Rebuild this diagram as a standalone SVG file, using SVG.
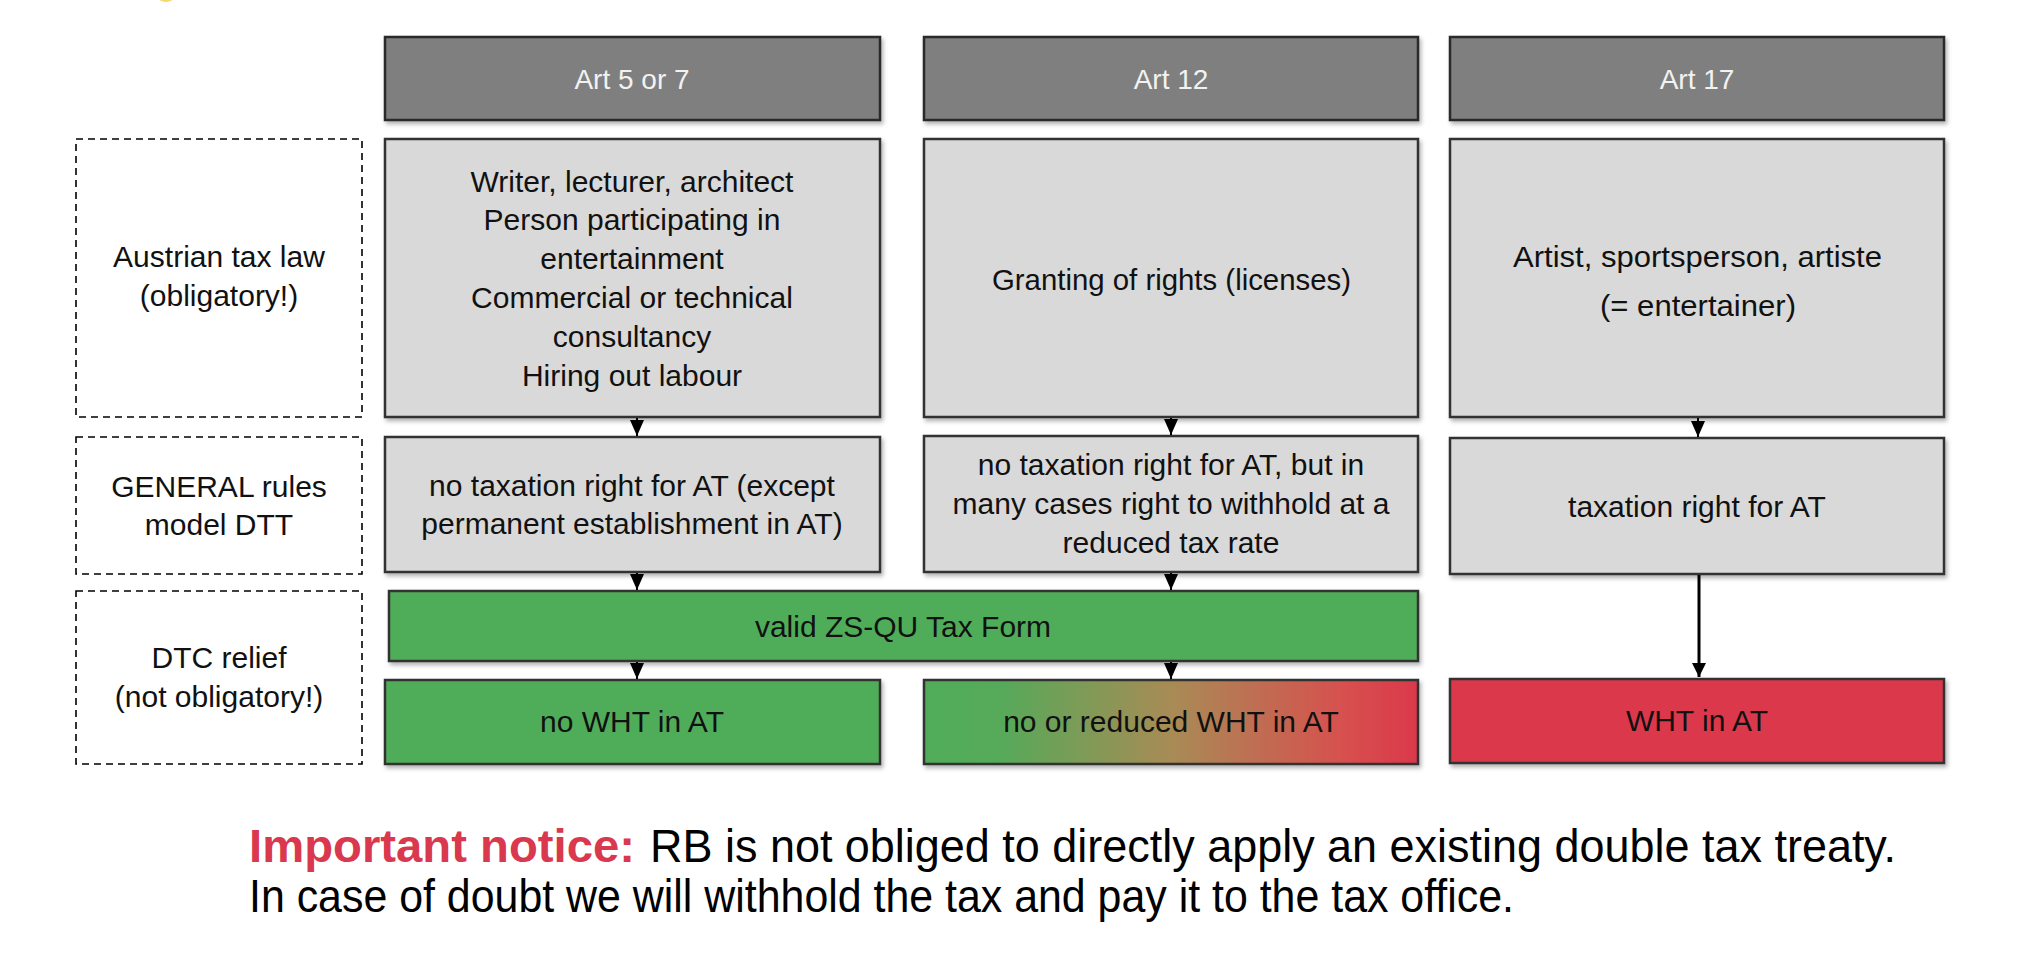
<svg xmlns="http://www.w3.org/2000/svg" width="2018" height="964" viewBox="0 0 2018 964">
<defs>
<filter id="sh" x="-5%" y="-5%" width="110%" height="120%">
<feDropShadow dx="2" dy="3" stdDeviation="2" flood-color="#000" flood-opacity="0.3"/>
</filter>
<linearGradient id="grad" x1="0" y1="0" x2="1" y2="0">
<stop offset="0" stop-color="#50ad5a"/>
<stop offset="0.15" stop-color="#55aa5a"/>
<stop offset="0.5" stop-color="#a88b55"/>
<stop offset="0.85" stop-color="#d7504f"/>
<stop offset="1" stop-color="#db384b"/>
</linearGradient>
<marker id="ah" viewBox="0 0 16 14" refX="16" refY="7" markerWidth="16" markerHeight="14" markerUnits="userSpaceOnUse" orient="auto">
<path d="M0,0 L16,7 L0,14 Z" fill="#000"/>
</marker>
<marker id="ah2" viewBox="0 0 14 14" refX="14" refY="7" markerWidth="14" markerHeight="14" markerUnits="userSpaceOnUse" orient="auto">
<path d="M0,0 L14,7 L0,14 Z" fill="#000"/>
</marker>
<style>
.hdr{fill:#7f7f7f;stroke:#2b2b2b;stroke-width:2.5;filter:url(#sh)}
.box{fill:#d9d9d9;stroke:#333;stroke-width:2.5;filter:url(#sh)}
.grn{fill:#50ad5a;stroke:#333;stroke-width:2.5;filter:url(#sh)}
.red{fill:#db374b;stroke:#333;stroke-width:2.5;filter:url(#sh)}
.gr{fill:url(#grad);stroke:#333;stroke-width:2.5;filter:url(#sh)}
.dash{fill:none;stroke:#000;stroke-width:1.6;stroke-dasharray:7,5}
.t{font-family:"Liberation Sans",Arial,sans-serif;font-size:30px;fill:#111;text-anchor:middle}
.th{font-family:"Liberation Sans",Arial,sans-serif;font-size:28px;fill:#f2f2f2;text-anchor:middle}
.f{font-family:"Liberation Sans",Arial,sans-serif;font-size:29px;fill:#111}
.n{font-family:"Liberation Sans",Arial,sans-serif;font-size:46px;fill:#000}
.nb{font-family:"Liberation Sans",Arial,sans-serif;font-size:46px;font-weight:bold;fill:#d9384e}
.c{stroke:#000;stroke-width:2;fill:none}
</style>
</defs>
<rect x="0" y="0" width="2018" height="964" fill="#fff"/>
<ellipse cx="166" cy="-3" rx="8" ry="5" fill="#f5d76e"/>

<g id="label-austrian">
<rect class="dash" x="76" y="139" width="286" height="278"/>
<text class="t" x="219" y="267">Austrian tax law</text>
<text class="t" x="219" y="306">(obligatory!)</text>
</g>
<g id="label-general">
<rect class="dash" x="76" y="437" width="286" height="137"/>
<text class="t" x="219" y="497">GENERAL rules</text>
<text class="t" x="219" y="535">model DTT</text>
</g>
<g id="label-dtc">
<rect class="dash" x="76" y="591" width="286" height="173"/>
<text class="t" x="219" y="668">DTC relief</text>
<text class="t" x="219" y="707">(not obligatory!)</text>
</g>

<g id="hdr-art57">
<rect class="hdr" x="385" y="37" width="495" height="83"/>
<text class="th" x="632" y="89">Art 5 or 7</text>
</g>
<g id="hdr-art12">
<rect class="hdr" x="924" y="37" width="494" height="83"/>
<text class="th" x="1171" y="89">Art 12</text>
</g>
<g id="hdr-art17">
<rect class="hdr" x="1450" y="37" width="494" height="83"/>
<text class="th" x="1697" y="89">Art 17</text>
</g>

<g id="law-art57">
<rect class="box" x="385" y="139" width="495" height="278"/>
<text class="t" x="632" y="192">Writer, lecturer, architect</text>
<text class="t" x="632" y="230">Person participating in</text>
<text class="t" x="632" y="269">entertainment</text>
<text class="t" x="632" y="308">Commercial or technical</text>
<text class="t" x="632" y="347">consultancy</text>
<text class="t" x="632" y="386">Hiring out labour</text>
</g>
<g id="law-art12">
<rect class="box" x="924" y="139" width="494" height="278"/>
<text class="f" x="992" y="290" textLength="359" lengthAdjust="spacingAndGlyphs">Granting of rights (licenses)</text>
</g>
<g id="law-art17">
<rect class="box" x="1450" y="139" width="494" height="278"/>
<text class="f" x="1513" y="267" textLength="369" lengthAdjust="spacingAndGlyphs">Artist, sportsperson, artiste</text>
<text class="f" x="1600" y="316" textLength="196" lengthAdjust="spacingAndGlyphs">(= entertainer)</text>
</g>

<g id="dtt-art57">
<rect class="box" x="385" y="437" width="495" height="135"/>
<text class="t" x="632" y="496">no taxation right for AT (except</text>
<text class="t" x="632" y="534">permanent establishment in AT)</text>
</g>
<g id="dtt-art12">
<rect class="box" x="924" y="436" width="494" height="136"/>
<text class="t" x="1171" y="475">no taxation right for AT, but in</text>
<text class="t" x="1171" y="514">many cases right to withhold at a</text>
<text class="t" x="1171" y="553">reduced tax rate</text>
</g>
<g id="dtt-art17">
<rect class="box" x="1450" y="438" width="494" height="136"/>
<text class="t" x="1697" y="517">taxation right for AT</text>
</g>

<g id="zsqu">
<rect class="grn" x="389" y="591" width="1029" height="70"/>
<text class="t" x="903" y="637">valid ZS-QU Tax Form</text>
</g>

<g id="res-art57">
<rect class="grn" x="385" y="680" width="495" height="84"/>
<text class="t" x="632" y="732">no WHT in AT</text>
</g>
<g id="res-art12">
<rect class="gr" x="924" y="680" width="494" height="84"/>
<text class="t" x="1171" y="732">no or reduced WHT in AT</text>
</g>
<g id="res-art17">
<rect class="red" x="1450" y="679" width="494" height="84"/>
<text class="t" x="1697" y="731">WHT in AT</text>
</g>

<g id="connectors">
<line class="c" x1="637" y1="418" x2="637" y2="436" marker-end="url(#ah)"/>
<line class="c" x1="1171" y1="418" x2="1171" y2="435" marker-end="url(#ah)"/>
<line class="c" x1="1698" y1="418" x2="1698" y2="437" marker-end="url(#ah)"/>
<line class="c" x1="637" y1="573" x2="637" y2="590" marker-end="url(#ah)"/>
<line class="c" x1="1171" y1="573" x2="1171" y2="590" marker-end="url(#ah)"/>
<line class="c" x1="637" y1="662" x2="637" y2="679" marker-end="url(#ah)"/>
<line class="c" x1="1171" y1="662" x2="1171" y2="679" marker-end="url(#ah)"/>
<line x1="1699" y1="575" x2="1699" y2="677" stroke="#000" stroke-width="3" marker-end="url(#ah2)"/>
</g>

<g id="notice">
<text class="nb" x="249" y="862" textLength="386" lengthAdjust="spacingAndGlyphs">Important notice:</text>
<text class="n" x="650" y="862" textLength="1246" lengthAdjust="spacingAndGlyphs">RB is not obliged to directly apply an existing double tax treaty.</text>
<text class="n" x="249" y="912" textLength="1265" lengthAdjust="spacingAndGlyphs">In case of doubt we will withhold the tax and pay it to the tax office.</text>
</g>
</svg>
